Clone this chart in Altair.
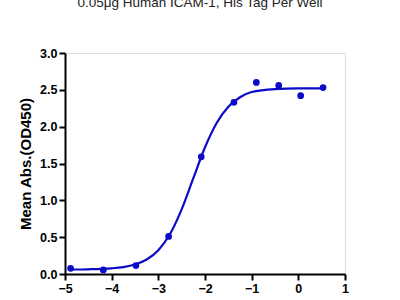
import altair as alt
import pandas as pd

# measured points (log concentration vs mean absorbance)
pt_x = [-4.88, -4.18, -3.48, -2.78, -2.08, -1.38, -0.90, -0.42, 0.05, 0.53]
pt_y = [0.077, 0.055, 0.114, 0.51, 1.59, 2.33, 2.60, 2.56, 2.42, 2.53]

# fitted curve
cv_x = [-4.88, -4.5, -4.0, -3.75, -3.5, -3.25, -3.0, -2.75, -2.5, -2.25, -2.0, -1.75, -1.5, -1.25, -1.0, -0.5, 0.0, 0.53]
cv_y = [0.061, 0.064, 0.077, 0.094, 0.129, 0.196, 0.323, 0.542, 0.877, 1.30, 1.72, 2.05, 2.27, 2.40, 2.47, 2.51, 2.52, 2.52]

x_ticks = [-5, -4, -3, -2, -1, 0, 1]
y_ticks = [0.0, 0.5, 1.0, 1.5, 2.0, 2.5, 3.0]

title_text = "0.05\u03bcg Human ICAM-1, His Tag Per Well"

pts = pd.DataFrame({"x": pt_x, "y": pt_y})
cv = pd.DataFrame({"x": cv_x, "y": cv_y})

BLUE = "#0a0ac8"
FONT = "Liberation Sans"

xs = alt.Scale(domain=[-5, 1], nice=False)
ys = alt.Scale(domain=[0, 3], nice=False)

xax = alt.Axis(values=x_ticks, format="d", grid=False,
               domainColor="black", domainWidth=2, tickColor="black", tickWidth=2,
               tickSize=6, labelFont=FONT, labelFontWeight="bold", labelFontSize=12.5,
               labelColor="black", labelPadding=2, title=None, labelFlush=False,
               labelOverlap=False)
yax = alt.Axis(values=y_ticks, format=".1f", grid=False,
               domainColor="black", domainWidth=2, tickColor="black", tickWidth=2,
               tickSize=6, labelFont=FONT, labelFontWeight="bold", labelFontSize=12.5,
               labelColor="black", labelPadding=2, title="Mean Abs.(OD450)",
               titleFont=FONT, titleFontWeight="bold", titleFontSize=15,
               titleColor="black", titlePadding=6, labelFlush=False,
               labelOverlap=False)

line = alt.Chart(cv).mark_line(color=BLUE, strokeWidth=2.2, interpolate="monotone").encode(
    x=alt.X("x:Q", scale=xs, axis=xax),
    y=alt.Y("y:Q", scale=ys, axis=yax),
)
points = alt.Chart(pts).mark_circle(color=BLUE, size=45, opacity=1).encode(
    x=alt.X("x:Q", scale=xs, axis=xax),
    y=alt.Y("y:Q", scale=ys, axis=yax),
)
title = alt.Chart(pd.DataFrame({"t": [title_text]})).mark_text(
    font=FONT, fontSize=13.5, color="#222222", baseline="middle", align="center"
).encode(text="t:N", x=alt.value(135), y=alt.value(-50))

chart = alt.layer(line, points, title).properties(
    width=280, height=221,
    autosize=alt.AutoSizeParams(type="none"),
    padding={"left": 65, "top": 53, "right": 55, "bottom": 26},
).configure_view(stroke=None).configure(background="white")

chart.save("out.html", embed_options={"renderer": "svg", "actions": False})
